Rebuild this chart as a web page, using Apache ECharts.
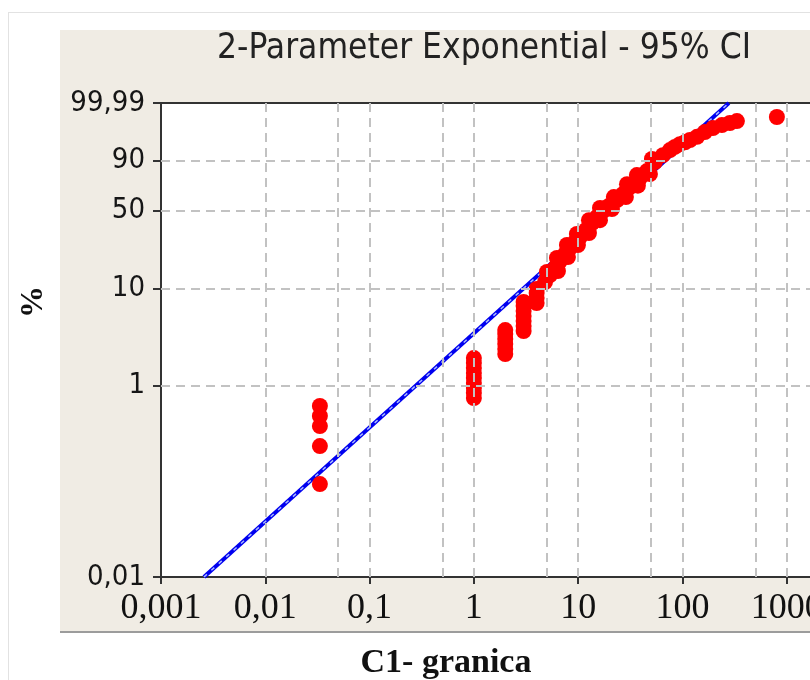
<!DOCTYPE html>
<html><head><meta charset="utf-8">
<script src="https://cdn.jsdelivr.net/npm/echarts@6/dist/echarts.min.js"></script>
<style>
html,body{margin:0;padding:0;overflow:hidden;background:#fff;width:810px;height:680px}
#c{width:968px;height:680px}
</style></head>
<body><div id="c"></div>
<script>
// ---- data ----
const xTickLabels = ['0,001','0,01','0,1','1','10','100','1000','10000'];
const yTickPercents = [0.01, 1, 10, 50, 90, 99.99];
const yTickLabels = ['0,01','1','10','50','90','99,99'];
const xGridValues = [0.005,0.01,0.05,0.1,0.5,1,5,10,50,100,500,1000,5000];
const yGridPercents = [1,10,50,90];

// observed points (value, cumulative %)
const obsX = [
  0.0334,0.0334,0.0334,0.0334,0.0334,
  1,1,1,1,1,1,1,1,1,
  2,2,2,2,2,2,
  3,3,3,3,3,3,3,
  4,4,4,4,
  4.81,5.37,6.0,6.69,7.47,8.34,9.31,10.4,11.9,13.6,15.1,17.3,19.7,23.6,26.9,31.4,35.1,39.1,45.7,54.5,65.0,75.9,84.7,94.6,105.7,118,138,164,196,239,285,333,
  5.02,6.26,7.81,9.73,12.7,16.2,22.0,29.4,36.6,51.0,
  6.40,7.98,9.95,12.7,16.2,21.1,28.7,37.4,48.8,
  805
];
const obsPct = [
  0.094,0.235,0.380,0.484,0.616,
  0.745,0.842,0.948,1.068,1.206,1.359,1.530,1.727,1.944,
  2.14,2.41,2.72,3.06,3.45,3.78,
  3.70,4.16,4.68,5.26,5.91,6.66,7.31,
  7.13,8.0,8.99,9.86,
  11.55,13.5,15.8,18.4,21.4,24.3,27.5,30.4,35.0,39.9,44.5,49.3,53.6,58.8,64.1,70.3,74.1,77.8,83.2,89.1,92.7,94.8,95.9,96.7,97.2,97.7,98.3,98.96,99.35,99.55,99.66,99.74,
  14.5,19.7,25.9,32.4,42.1,51.9,61.4,72.8,80.2,90.8,
  14.8,20.1,25.9,33.0,42.1,51.0,61.4,71.5,81.0,
  99.86
];
// fitted 2-parameter exponential line endpoints
const fitX = [0.00258, 279];
const fitPct = [0.01, 99.99];

// ---- helpers ----
const yT = p => Math.log10(-Math.log(1 - p / 100));
const yTickVals = yTickPercents.map(yT);

const chart = echarts.init(document.getElementById('c'));
const scatterData = obsX.map((x, i) => [x, yT(obsPct[i])]);
const fitData = fitX.map((x, i) => [x, yT(fitPct[i])]);

const gridMarks = xGridValues.map(v => ({xAxis: v}))
  .concat(yGridPercents.map(p => ({yAxis: yT(p)})));

chart.setOption({
  animation: false,
  backgroundColor: 'transparent',
  title: {
    text: '2-Parameter Exponential - 95% CI',
    left: 'center', top: 31, padding: 0,
    textStyle: {fontFamily: '"DejaVu Sans Condensed","DejaVu Sans",sans-serif', fontSize: 35, fontWeight: 'normal', color: '#222'}
  },
  graphic: [
    {type: 'rect', z: -5, shape: {x: 60, y: 30, width: 908, height: 602}, style: {fill: '#F0ECE4'}},
    {type: 'rect', z: -4, shape: {x: 60, y: 631, width: 908, height: 2}, style: {fill: '#9c9c9c'}},
    {type: 'line', z: -4, shape: {x1: 8.5, y1: 12, x2: 8.5, y2: 680}, style: {stroke: '#e2e2e2', lineWidth: 1}},
    {type: 'line', z: -4, shape: {x1: 8, y1: 12.5, x2: 968, y2: 12.5}, style: {stroke: '#e2e2e2', lineWidth: 1}},
    {type: 'text', x: 446, y: 663, style: {text: 'C1- granica', font: 'bold 34px "Liberation Serif", serif', fill: '#111', textAlign: 'center', textVerticalAlign: 'middle'}},
    {type: 'text', x: 34, y: 302, rotation: Math.PI / 2, style: {text: '%', font: 'bold 32px "Liberation Serif", serif', fill: '#111', textAlign: 'center', textVerticalAlign: 'middle'}}
  ],
  grid: {left: 161, top: 103, right: 77, bottom: 103, show: true, backgroundColor: '#fff', borderColor: '#333', borderWidth: 2},
  xAxis: {
    type: 'log', logBase: 10, min: 0.001, max: 10000, splitNumber: 7,
    axisLine: {show: true, onZero: false, lineStyle: {color: '#333', width: 2}},
    axisTick: {show: true, inside: false, length: 7, lineStyle: {color: '#333', width: 2}},
    splitLine: {show: false},
    axisLabel: {
      interval: 0, showMinLabel: true, showMaxLabel: true, margin: 14,
      fontFamily: '"Liberation Serif", serif', fontSize: 36, color: '#111',
      formatter: v => xTickLabels[Math.round(Math.log10(v)) + 3]
    }
  },
  yAxis: {
    type: 'value', min: yT(0.01), max: yT(99.99),
    axisLine: {show: true, onZero: false, lineStyle: {color: '#333', width: 2}},
    axisTick: {show: true, inside: false, length: 8, customValues: yTickVals, lineStyle: {color: '#333', width: 2}},
    splitLine: {show: false},
    axisLabel: {
      customValues: yTickVals, margin: 16,
      fontFamily: '"DejaVu Sans Condensed","DejaVu Sans",sans-serif', fontSize: 29, color: '#161616',
      formatter: v => {
        let best = 0;
        yTickVals.forEach((t, i) => { if (Math.abs(t - v) < Math.abs(yTickVals[best] - v)) best = i; });
        return yTickLabels[best];
      }
    }
  },
  series: [
    {type: 'scatter', data: [], z: 1, silent: true,
     markLine: {silent: true, symbol: ['none', 'none'], label: {show: false},
       lineStyle: {color: '#c2c2c2', type: [9, 6], width: 2}, data: gridMarks}},
    {type: 'line', data: fitData, z: 2, symbol: 'none', silent: true, lineStyle: {color: '#0000f0', width: 4}},
    {type: 'line', data: fitData, z: 3, symbol: 'none', silent: true, lineStyle: {color: '#a8b8ff', width: 1.5, type: [4, 6]}},
    {type: 'scatter', data: scatterData, z: 4, symbol: 'circle', symbolSize: 16, itemStyle: {color: '#ff0000', opacity: 1}}
  ]
});
</script>
</body></html>
